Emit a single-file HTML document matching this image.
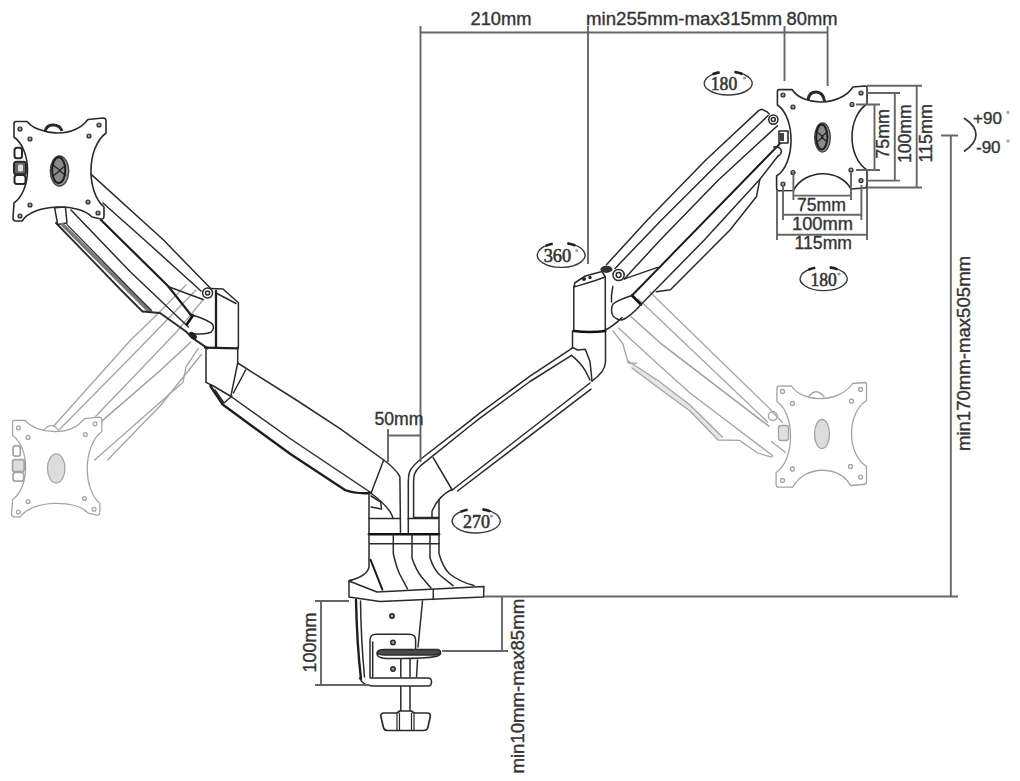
<!DOCTYPE html>
<html><head><meta charset="utf-8">
<style>
html,body{margin:0;padding:0;background:#fff;width:1020px;height:781px;overflow:hidden}
svg{display:block;position:absolute;left:0;top:0}
text{font-family:"Liberation Sans",sans-serif;fill:#333;stroke:#333;stroke-width:0.35px}
</style></head><body>
<svg width="1020" height="781" viewBox="0 0 1020 781">


<!-- ===== GHOSTS ===== -->
<g id="ghostL" stroke="#a4a4a4" stroke-width="1.3" fill="none" stroke-linejoin="round" stroke-linecap="round">
  <path d="M186 285 L153.8 317.7 L130.7 340 L53.8 426"/>
  <path d="M196 290 L166 320.7 L147.6 340 L60 429"/>
  <path d="M203 300 L176.8 331.5 L160 349.2 L95.3 416.8"/>
  <path d="M190.6 342.2 L160 370.7 L101.5 421.4" stroke="#a0a0a0" stroke-width="1.5"/>
  <path d="M198.3 348.4 L186 366.8 L183 382.2 L94.6 460"/>
  <path d="M201.4 354.5 L160 406 L107.6 460"/>
  <g transform="translate(-1 302.6) scale(0.97)">
    <path d="M45 133 Q53 121 62 132"/>
    <path d="M16 121.5 L27 121.5 C37 134 72 140 88 119.5 L103 118 Q106 118 106 121 L106 133 C86.3 148 86.3 192 104 207 L104 216 Q104 219.5 101 219 L92 217 C80 203 34 203 22 221 L16 221 Q13 221 13 218 L14 203 C32 190 32 150 14 137 L14 124 Q14 121.5 16 121.5 Z" fill="#fff"/>
    <circle cx="20" cy="129" r="2"/><circle cx="30" cy="139" r="2"/><circle cx="99" cy="125" r="2"/><circle cx="89" cy="136" r="2"/><circle cx="30" cy="205" r="2"/><circle cx="20" cy="216" r="2"/><circle cx="88" cy="202" r="2"/><circle cx="98" cy="213" r="2"/>
    <ellipse cx="59" cy="171" rx="9" ry="15" fill="#dcdcdc"/>
    <rect x="14.5" y="147.8" width="7.5" height="10.5" rx="2.5" stroke-width="1.8"/><rect x="14" y="161.8" width="12" height="12.5" rx="2.5" fill="#ddd" stroke-width="1.8"/><rect x="14.5" y="175" width="11" height="9" rx="2.5" stroke-width="1.8"/>
  </g>
</g>
<g id="ghostR" stroke="#a4a4a4" stroke-width="1.3" fill="none" stroke-linejoin="round" stroke-linecap="round">
  <path d="M628.3 361 L660 382 L690 405 L722.4 437 L718 440 L690 411 L660 389 L632 368 Z" fill="#e6e6e6" stroke="none"/>
  <path d="M650 292 L656.5 298.5 L768.9 407.9"/>
  <path d="M638 299 L645.2 305.5 L767.5 422"/>
  <path d="M631.1 316.8 L660 342.8 L768.9 426.2" stroke="#a0a0a0" stroke-width="1.5"/>
  <path d="M618.5 328 L660 366 L690 393 L773 456"/>
  <path d="M612.8 330.8 L622.7 343.5 L628.3 363.2 L636.8 363.2"/>
  <path d="M628.3 361 L660 382 L690 405 L722.4 437"/>
  <path d="M632 368 L660 389 L690 411 L718 440 L739.3 440.3 L757.6 453 L771.7 457.2"/>
  <g transform="translate(-0.5 296.5)">
    <path d="M808.4 101 Q816 90 824.5 100"/>
    <path d="M779 89.6 L792 89.5 C803 106.6 840 106.6 853 87 L865 86 Q867 86 867 88 L867 104 C847 117 847 157 867 170 L867 185 Q867 188 864 188 L851 189 C840 168.4 805 168.4 793.4 190.5 L779 190.7 Q776.6 190.7 776.6 188 L776.6 176 C795.7 164 795.7 117 777.4 105 L777.4 92 Q777.4 89.6 779 89.6 Z" fill="#fff"/>
    <circle cx="783" cy="95" r="2"/><circle cx="793" cy="107" r="2"/><circle cx="861" cy="93" r="2"/><circle cx="852" cy="104.5" r="2"/><circle cx="793" cy="172.5" r="2"/><circle cx="783" cy="184" r="2"/><circle cx="851" cy="170" r="2"/><circle cx="861" cy="180.6" r="2"/>
    <ellipse cx="822.5" cy="137.5" rx="7.5" ry="14.5" fill="#dcdcdc"/>
    <circle cx="773.3" cy="119.6" r="4.4" fill="#fff"/><rect x="779" y="129" width="10" height="15" rx="2.5" fill="#e0e0e0"/><path d="M770 112 L783 126 M772 145 L786 156"/>
  </g>
</g>
<!-- ===== LEFT PLATE ===== -->
<g id="lplate" stroke="#2a2a2a" stroke-width="1.6" fill="#fff" stroke-linejoin="round">
  <path d="M45 132 Q46 125 53 125 Q60 125 62 131" fill="#fff" stroke-width="3"/>
  <path d="M16 121.5 L27 121.5 C37 134 72 140 88 119.5 L103 118 Q106 118 106 121 L106 133 C86.3 148 86.3 192 104 207 L104 216 Q104 219.5 101 219 L92 217 C80 203 34 203 22 221 L16 221 Q13 221 13 218 L14 203 C32 190 32 150 14 137 L14 124 Q14 121.5 16 121.5 Z"/>
  <g fill="#9a9a9a" stroke-width="1.2"><circle cx="20" cy="129" r="2"/><circle cx="30" cy="139" r="2"/><circle cx="99" cy="125" r="2"/><circle cx="89" cy="136" r="2"/><circle cx="30" cy="205" r="2"/><circle cx="20" cy="216" r="2"/><circle cx="88" cy="202" r="2"/><circle cx="98" cy="213" r="2"/></g>
  <ellipse cx="59.5" cy="171" rx="9.2" ry="15" fill="#9a9a9a" stroke="#444" stroke-width="1.4"/>
  <ellipse cx="58.7" cy="170.2" rx="6.6" ry="13" fill="#8a8a8a" stroke="#1e1e1e" stroke-width="2"/>
  <path d="M53 165 L60 170.4 L53 176 M66 165 L59.5 170.4 L66 176" stroke="#222" stroke-width="1.3" fill="none"/>
  <rect x="14.5" y="147.8" width="7.5" height="10.5" rx="2.5" fill="#fff" stroke-width="2"/><rect x="14" y="161.8" width="12" height="12.5" rx="2.5" fill="#666" stroke-width="2"/><rect x="18" y="164.5" width="5" height="7" rx="1.5" fill="#ddd" stroke="none"/><rect x="14.5" y="175" width="11" height="9" rx="2.5" fill="#fff" stroke-width="2"/>
</g>

<!-- ===== LEFT UPPER ARM ===== -->
<g id="luarm" stroke="#2a2a2a" stroke-width="1.5" fill="none" stroke-linejoin="round" stroke-linecap="round">
  <path d="M91.5 174.6 L163.5 240 L210.7 288.6"/>
  <path d="M103 203 L144.6 240 L201 291"/>
  <path d="M101 220 L168 286 L191 315" stroke-width="2.2" stroke="#1e1e1e"/>
  <path d="M71 210 L130 271.5 L188.4 327"/>
  <path d="M54.6 207.7 L65.4 207 L67 223 L57.7 224.6 Z"/>
  <path d="M56 223 L121 290 L142.5 311.5" stroke-width="1.8"/>
  <path d="M62.5 224.5 L127.8 290 L149 311" stroke="#7a7a7a" stroke-width="3.6"/>
  <path d="M67 224.6 L131 290 L151.5 310.5" stroke-width="1.3"/>
  <path d="M143 311.5 L160 313 L186 331.5 L192 337.6 L207.6 348.4" stroke-width="2"/>
  <path d="M191.3 315.1 Q203 318 211.8 323.3 Q215.5 328 211 332.3 Q205 335 192.3 333.5"/>
  <path d="M186.8 324.5 L193 315.3" stroke-width="2.6" stroke="#111"/>
  <path d="M168 286.5 L203 299.5"/>
  <ellipse cx="192.8" cy="335.8" rx="4.6" ry="3" fill="#222" stroke="none" transform="rotate(40 192.8 335.8)"/>
  <!-- elbow block -->
  <path d="M210.7 288.6 L223 289 L238.4 302.8 V347.5"/>
  <path d="M216 291 V347.5" stroke-width="2.3" stroke="#1e1e1e"/><path d="M216 293 L236 303.5"/>
  <path d="M205 347.6 L238 348.3" stroke-width="2.2" stroke="#1e1e1e"/>
  <circle cx="207.6" cy="293" r="5" fill="#fff"/>
  <circle cx="207.6" cy="293" r="2"/>
  <path d="M206 347 V382.3 M237.7 347 V363"/>
</g>
<!-- ===== LEFT LOWER ARM ===== -->
<g id="llarm" stroke="#2a2a2a" stroke-width="1.5" fill="none" stroke-linejoin="round" stroke-linecap="round">
  <path d="M237.7 363 L296.3 400 L340 428.7 L383.7 460 Q396 469 399.9 476.8 L400.5 533"/>
  <path d="M237.7 363 L231 395.3 M245.7 370 L233.4 393"/>
  <path d="M206 382.3 L213.4 386 L230.3 396 L290 438.5 L371.4 493"/>
  <path d="M383.7 460 L371.4 492.2"/>
  <path d="M210.4 386 L222.7 404.5 L290 453.8 L345 490 Q355 494 371 493" stroke-width="2.4" stroke="#1e1e1e"/>
  <path d="M215 390 L224 403 L232 396"/>
</g>
<!-- ===== CENTER POLE ===== -->
<g id="pole" stroke="#2a2a2a" stroke-width="1.5" fill="none" stroke-linejoin="round" stroke-linecap="round">
    <path d="M413.6 517.6 H438.3"/>
    <path d="M452.2 489.2 Q438 496 432 511.5 V517.6"/>
  <path d="M370.7 493 Q390.7 508 393 518.4"/>
  <path d="M371 496 L380.7 502 L381.5 509 L371 507"/>
  <path d="M369 518.4 H400.5 M408 518.4 H438.3"/>
  <path d="M369 534.2 H439" stroke-width="2.6" stroke="#111"/>
  <path d="M370 543.8 H439"/>
  <path d="M369 492 V567.6 Q366 577 349.4 580.5"/>
  <path d="M439 500 V553.5 Q443 568 449.8 574 Q460 582 474 585.5"/>
  <path d="M370.6 559.8 L382.4 589.6" stroke-width="2" stroke="#1e1e1e"/>
  <path d="M393.3 534 V553.5 Q396 566 399.6 574 L407.5 588.8"/>
  <path d="M412 534 V558 Q416 570 421.6 577 L431 588"/>
  <path d="M430 534 V558 Q434 570 440.4 575.5 L453 585.7"/>
  <!-- slab -->
  <path d="M349 581 L377 592 L484 586.5 L483.5 597 L380 601.5 L349 597 Z" fill="none"/>
  <path d="M349 581 L352 580"/>
  <path d="M433.3 589.5 V599.5"/>
</g>
<!-- ===== CLAMP ===== -->
<g id="clamp" stroke="#2a2a2a" stroke-width="1.5" fill="none" stroke-linejoin="round" stroke-linecap="round">
  <path d="M356 600 Q357 645 361 679" stroke-width="2.4" stroke="#1e1e1e"/>
  <path d="M360.5 601 Q361 640 364.5 677"/>
  <path d="M422.5 601 L418 647 M417.5 660 L416.5 677"/>
  <path d="M359.5 678 Q363 685.5 372 686 H428 Q431.5 686 431.5 682 Q431.5 678 428 678 H371"/>
  <path d="M370 678 V640 Q370 634.2 376 634.2 H409 Q415.6 634.2 415.6 640 V650"/>
  <path d="M372.7 677 V642"/>
  <circle cx="392" cy="616" r="2.2" fill="#999"/><circle cx="393" cy="642.5" r="2.2" fill="#999"/><circle cx="393" cy="669" r="2.2" fill="#999"/>
  <path d="M377 653.5 Q377 658 386 658.5 H400 Q425 658.5 436 656.5 Q440.5 655.5 440.5 653 Z" fill="#fff"/>
  <path d="M377 653 Q377 649.5 385 649.5 H437 Q441 650 440.5 653 Q440 655 432 655 H385 Q378 655 377 653 Z" fill="#4a4a4a"/>
  <path d="M400.8 659 V677 M410 659 V677"/>
  <path d="M400.8 686.5 V711.5 M410 686.5 V711.5"/>
  <path d="M380.8 716 Q380.5 713 384 713 H397 L399.5 711 H411.5 L414 713 H427 Q430.8 713 430.3 716.5 L428 727 Q427.5 730.5 423.5 730.5 H388 Q384 730.5 383.3 727 Z" fill="#fff" stroke-width="1.7"/>
  <path d="M397 713 V730.5 M414 713 V730.5 M399.5 713 V730 M411.5 713 V730" stroke-width="1.2"/>
</g>
<!-- ===== RIGHT LOWER ARM ===== -->
<g id="rlarm" stroke="#2a2a2a" stroke-width="1.5" fill="none" stroke-linejoin="round" stroke-linecap="round">
  <path d="M573 347.7 L530 376.1 L480 412.9 L470 420.8 L421.5 458.5 Q412 466 409.5 472 Q408.3 476 408.3 482 V533"/>
  <path d="M571.5 355.4 L530 381.5 L480 418.1 L470 426 L420.6 465.7 Q416 470 414.5 474 Q413.6 477 413.6 482 V517.6"/>
  <path d="M452.2 490 L590 383"/>
  <path d="M457.5 491 L591 389.2"/>
  <path d="M433.2 457.6 L452.2 490"/>
  <path d="M573 347.7 L577.6 350 L585.3 349.2 L590 361.5 L592 381"/>
  <path d="M571.5 355.4 Q580 362 585.3 370.7 L590 380"/>
  <path d="M572.5 331 V348 M605.5 331 V362 Q605 372 592 381"/>
</g>
<!-- ===== RIGHT ELBOW ===== -->
<g id="relbow" stroke="#2a2a2a" stroke-width="1.5" fill="none" stroke-linejoin="round" stroke-linecap="round">
  <path d="M573.8 286 V331 M605.3 277.7 V331"/>
  <path d="M574.6 283 L585.3 276 L602 271.5 L605.3 277 L594.6 280.7 L574.6 286.9 Z" fill="#fff"/>
  <circle cx="584" cy="279" r="1.3" fill="#222"/><circle cx="590" cy="277.5" r="1" fill="#222"/>
  <path d="M573.8 331 Q590 333 605.3 331" stroke-width="2.4" stroke="#111"/>
  <path d="M605.3 330 Q612 327 622 317.6"/>
</g>
<!-- ===== RIGHT UPPER ARM ===== -->
<g id="ruarm" stroke="#2a2a2a" stroke-width="1.5" fill="none" stroke-linejoin="round" stroke-linecap="round">
  <path d="M606.4 264.8 L647.4 220 L705.8 160 L758.9 110.4 L762 109.3 L767.1 111.9 L769.2 114"/>
  <path d="M615 268.5 L661.5 220 L721.7 160 L768.1 115.5"/>
  <path d="M624.3 278.9 L660.2 240 L718.4 180 L777.4 125.7"/>
  <path d="M624.3 278.9 L657.6 267.4"/>
  <path d="M632 295.5 L780.4 143.1" stroke-width="2" stroke="#1e1e1e"/>
  <path d="M632 295.5 L641 304.5" stroke-width="2.6" stroke="#111"/>
  <path d="M641 304.5 L704.3 240 L759.9 179.2 L778 156"/>
  <path d="M656.3 291.7 L670.4 289.8 L730 230 L756.5 196.5 L759.9 179.2"/>
  <path d="M773.7 146.9 Q780 146 781.5 151 Q781 155 778 156"/>
  <path d="M632 295.5 Q618 300 613 304 Q610 310 613 316 Q617 320 622 320 Q630 317 641 304.5"/>
  <path d="M612.8 286.6 Q611 295 611.5 302"/>
  <ellipse cx="606.4" cy="269.3" rx="6" ry="3.6" fill="#333" stroke="none"/>
  <circle cx="618.6" cy="275" r="5.6" fill="#fff"/><circle cx="618.6" cy="275" r="2.4"/>
  <circle cx="773.3" cy="119.6" r="4.6" fill="#fff"/><circle cx="773.3" cy="119.6" r="2"/>
</g>
<!-- ===== RIGHT PLATE ===== -->
<g id="rplate" stroke="#2a2a2a" stroke-width="1.6" fill="none" stroke-linejoin="round">
  <path d="M808 100 Q809 92 816 92 Q823 92 824.5 101" stroke-width="3"/>
  <path d="M779 89.6 L792 89.5 C803 106.6 840 106.6 853 87 L865 86 Q867 86 867 88 L867 104 C847 117 847 157 867 170 L867 185 Q867 188 864 188 L851 189 C840 168.4 805 168.4 793.4 190.5 L779 190.7 Q776.6 190.7 776.6 188 L776.6 176 C795.7 164 795.7 117 777.4 105 L777.4 92 Q777.4 89.6 779 89.6 Z"/>
  <g fill="#9a9a9a" stroke-width="1.2"><circle cx="783" cy="95" r="2"/><circle cx="793" cy="107" r="2"/><circle cx="861" cy="93" r="2"/><circle cx="852" cy="104.5" r="2"/><circle cx="793" cy="172.5" r="2"/><circle cx="783" cy="184" r="2"/><circle cx="851" cy="170" r="2"/><circle cx="861" cy="180.6" r="2"/></g>
  <ellipse cx="822.5" cy="137.5" rx="7.8" ry="14.5" fill="#9a9a9a" stroke="#444" stroke-width="1.4"/>
  <ellipse cx="821.8" cy="137" rx="5.6" ry="12.4" fill="#8a8a8a" stroke="#1e1e1e" stroke-width="2"/>
  <path d="M817 132 L823 137 L817 142 M827 132 L821.5 137 L827 142" stroke="#222" stroke-width="1.2" fill="none"/>
  <path d="M779 131 h9 v12 h-9 z" fill="#fff"/>
  <path d="M780 133 h4 v8 h-4 z" fill="#444" stroke="none"/>
</g>
<!-- ===== DIMENSIONS ===== -->
<g id="dims" stroke="#666" stroke-width="1.9" fill="none">
  <path d="M420.5 32.5H827.6"/>
  <path d="M420.5 26V462"/>
  <path d="M588 26V264"/>
  <path d="M784.5 26V81"/>
  <path d="M827.6 26V86"/>
  <!-- 50mm -->
  <path d="M388 429V462M388 435.5H421"/>
  <!-- right big vertical -->
  <path d="M941 135.5H958M950.8 135.5V597"/>
  <path d="M484 596.5H958"/>
  <!-- min10-max85 -->
  <path d="M502 596.5V651M442 651H508"/>
  <!-- 100mm left -->
  <path d="M315 601H349M321 601V685M315 685H370"/>
  <!-- plate dims right -->
  <path d="M856 104.5H880M874.5 104.5V170M856 170H880"/>
  <path d="M866 93H900M894.8 93V180.6M866 180.6H900"/>
  <path d="M867 85.7H922M916.7 85.7V187.5M867 187.5H922"/>
  <!-- plate dims bottom -->
  <path d="M793.4 172V200M851 172V200M793.4 195.6H851"/>
  <path d="M783 185V220M861.4 185V220M783 214.7H861.4"/>
  <path d="M777 190V240M867 188V240M777 234.7H867"/>
</g>
<g id="labels" font-size="18">
  <text x="470.5" y="25" textLength="61" lengthAdjust="spacingAndGlyphs">210mm</text>
  <text x="586" y="25" textLength="196" lengthAdjust="spacingAndGlyphs">min255mm-max315mm</text>
  <text x="786.5" y="25" textLength="51" lengthAdjust="spacingAndGlyphs">80mm</text>
  <text x="374.5" y="425" textLength="49" lengthAdjust="spacingAndGlyphs">50mm</text>
  <text x="797" y="211" textLength="49" lengthAdjust="spacingAndGlyphs">75mm</text>
  <text x="792" y="229.5" textLength="61" lengthAdjust="spacingAndGlyphs">100mm</text>
  <text x="794.6" y="249" textLength="57.4" lengthAdjust="spacingAndGlyphs">115mm</text>
  <text transform="translate(889 158.7) rotate(-90)" textLength="49.7" lengthAdjust="spacingAndGlyphs">75mm</text>
  <text transform="translate(910.5 163.1) rotate(-90)" textLength="58.9" lengthAdjust="spacingAndGlyphs">100mm</text>
  <text transform="translate(931.6 162.5) rotate(-90)" textLength="58.3" lengthAdjust="spacingAndGlyphs">115mm</text>
  <text transform="translate(970.3 451.1) rotate(-90)" font-size="18.8" textLength="195.2" lengthAdjust="spacingAndGlyphs">min170mm-max505mm</text>
  <text transform="translate(524 773.6) rotate(-90)" font-size="18.8" textLength="174.8" lengthAdjust="spacingAndGlyphs">min10mm-max85mm</text>
  <text transform="translate(316 672.5) rotate(-90)" textLength="60" lengthAdjust="spacingAndGlyphs">100mm</text>
  <text x="973" y="124.3" font-size="17">+90</text>
  <text x="976" y="153" font-size="17">-90</text>
</g>

<!-- ===== ANGLE LABELS ===== -->
<path d="M719.5 72.4 A24 11.7 0 1 0 734.5 72.0" stroke="#3a3a3a" stroke-width="1.4" fill="none"/>
<path d="M712.6 74.3 A24 11.7 0 0 1 719.5 72.4" stroke="#222" stroke-width="2.6" fill="none"/>
<path d="M734.5 72.0 A24 11.7 0 0 1 742.4 74.0" stroke="#222" stroke-width="2.6" fill="none"/>
<text x="710.8" y="90.3" style="font-family:'Liberation Serif';stroke-width:0.6px" font-size="19" textLength="26.4" lengthAdjust="spacingAndGlyphs">180</text>
<circle cx="744.5" cy="78" r="1.6" fill="#a0a0a0"/>
<path d="M552.6 243.8 A23.8 12.2 0 1 0 567.4 243.4" stroke="#3a3a3a" stroke-width="1.4" fill="none"/>
<path d="M545.7 245.9 A23.8 12.2 0 0 1 552.6 243.8" stroke="#222" stroke-width="2.6" fill="none"/>
<path d="M567.4 243.4 A23.8 12.2 0 0 1 575.3 245.5" stroke="#222" stroke-width="2.6" fill="none"/>
<text x="543.7" y="261.7" style="font-family:'Liberation Serif';stroke-width:0.6px" font-size="19" textLength="27.5" lengthAdjust="spacingAndGlyphs">360</text>
<circle cx="576.7" cy="250.6" r="1.6" fill="#a0a0a0"/>
<path d="M815.2 267.8 A23.5 11.8 0 1 0 829.8 267.4" stroke="#3a3a3a" stroke-width="1.4" fill="none"/>
<path d="M808.4 269.8 A23.5 11.8 0 0 1 815.2 267.8" stroke="#222" stroke-width="2.6" fill="none"/>
<path d="M829.8 267.4 A23.5 11.8 0 0 1 837.6 269.4" stroke="#222" stroke-width="2.6" fill="none"/>
<text x="810.5" y="286" style="font-family:'Liberation Serif';stroke-width:0.6px" font-size="19" textLength="26.4" lengthAdjust="spacingAndGlyphs">180</text>
<circle cx="839" cy="274" r="1.6" fill="#a0a0a0"/>
<path d="M467.5 509.8 A24 12 0 1 0 482.5 509.4" stroke="#3a3a3a" stroke-width="1.4" fill="none"/>
<path d="M460.6 511.8 A24 12 0 0 1 467.5 509.8" stroke="#222" stroke-width="2.6" fill="none"/>
<path d="M482.5 509.4 A24 12 0 0 1 490.4 511.4" stroke="#222" stroke-width="2.6" fill="none"/>
<text x="463" y="528" style="font-family:'Liberation Serif';stroke-width:0.6px" font-size="19" textLength="27" lengthAdjust="spacingAndGlyphs">270</text>
<circle cx="491.5" cy="516" r="1.6" fill="#a0a0a0"/>
<path d="M964 118 Q988 134.5 964 151.5" stroke="#333" stroke-width="1.7" fill="none"/>
<circle cx="1008" cy="112.5" r="1.7" fill="#aaa"/><circle cx="1008" cy="141" r="1.7" fill="#aaa"/>
</svg>
</body></html>
